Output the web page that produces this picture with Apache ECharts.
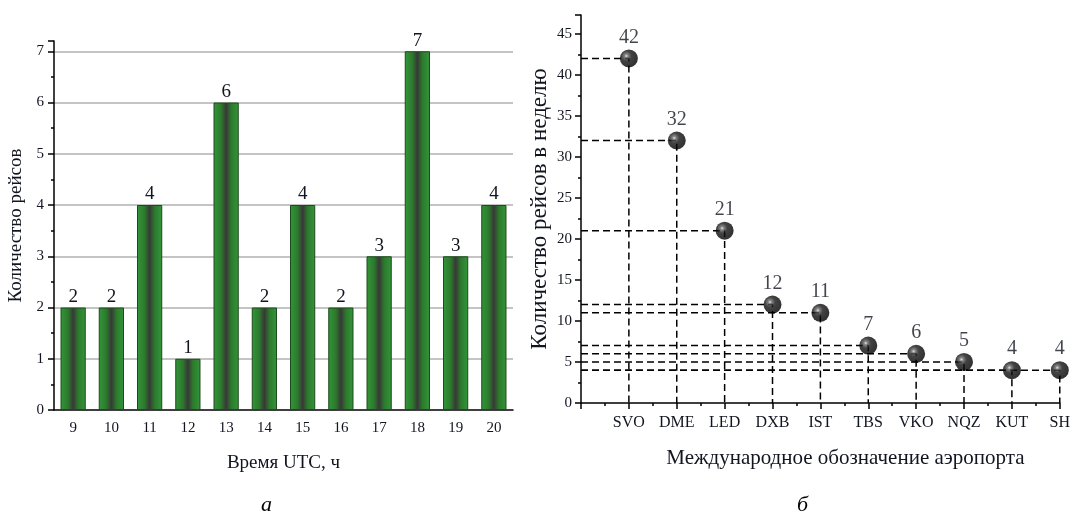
<!DOCTYPE html>
<html>
<head>
<meta charset="utf-8">
<script src="https://cdn.jsdelivr.net/npm/echarts@6/dist/echarts.min.js"></script>
<style>
html,body{margin:0;padding:0;background:#fff;}
#c{width:1073px;height:518px;}
</style>
</head>
<body>
<div id="c"></div>
<script>
// ---- data ----
const hours = ['9','10','11','12','13','14','15','16','17','18','19','20'];
const flights = [2,2,4,1,6,2,4,2,3,7,3,4];
const airports = ['SVO','DME','LED','DXB','IST','TBS','VKO','NQZ','KUT','SH'];
const weekly = [42,32,21,12,11,7,6,5,4,4];

const SERIF = '"Liberation Serif","DejaVu Serif",serif';
const TXT = '#111520';

const chart = echarts.init(document.getElementById('c'));

const dashSeries = weekly.map((v, i) => ({
  type: 'line',
  xAxisIndex: 2, yAxisIndex: 1,
  data: [[0, v], [i + 1, v], [i + 1, 0]],
  symbol: 'none',
  silent: true,
  z: 1,
  lineStyle: {color: '#000', width: 1.5, type: [7, 4]}
}));

const option = {
  animation: false,
  backgroundColor: '#fff',
  title: [
    {text: 'а', left: 256, top: 489, textStyle: {fontFamily: SERIF, fontStyle: 'italic', fontWeight: 'normal', fontSize: 22, color: '#000'}},
    {text: 'б', left: 792, top: 489, textStyle: {fontFamily: SERIF, fontStyle: 'italic', fontWeight: 'normal', fontSize: 22, color: '#000'}}
  ],
  grid: [
    {left: 54, right: 560, top: 41, bottom: 108, containLabel: false},
    {left: 581, right: 8, top: 15, bottom: 115, containLabel: false}
  ],
  xAxis: [
    {
      type: 'category', gridIndex: 0, data: hours,
      name: 'Время UTC, ч', nameLocation: 'middle', nameGap: 44,
      nameTextStyle: {fontFamily: SERIF, fontSize: 19, color: TXT},
      axisLine: {lineStyle: {color: '#000', width: 1.5}},
      axisTick: {alignWithLabel: true, length: 6, lineStyle: {color: '#000', width: 1.5}},
      axisLabel: {fontFamily: SERIF, fontSize: 15, color: TXT, margin: 11},
      splitLine: {show: false}
    },
    {
      type: 'category', gridIndex: 0, data: hours,
      axisLine: {show: false},
      axisTick: {alignWithLabel: false, length: 3, lineStyle: {color: '#000', width: 1.5}},
      axisLabel: {show: false},
      splitLine: {show: false}
    },
    {
      type: 'value', gridIndex: 1, min: 0, max: 10, interval: 1,
      name: 'Международное обозначение аэропорта', nameLocation: 'middle', nameGap: 45,
      nameTextStyle: {fontFamily: SERIF, fontSize: 21, color: TXT, padding: [0, 0, 0, 50]},
      axisLine: {lineStyle: {color: '#000', width: 1.5}},
      axisTick: {length: 6, lineStyle: {color: '#000', width: 1.5}},
      minorTick: {show: true, splitNumber: 2, length: 3, lineStyle: {color: '#000', width: 1.5}},
      axisLabel: {fontFamily: SERIF, fontSize: 16, color: TXT, margin: 12,
        formatter: v => (v >= 1 && v <= airports.length && Number.isInteger(v)) ? airports[v - 1] : ''},
      splitLine: {show: false}
    }
  ],
  yAxis: [
    {
      type: 'value', gridIndex: 0, min: 0, max: 7.2, interval: 1,
      name: 'Количество рейсов', nameLocation: 'middle', nameGap: 28,
      nameTextStyle: {fontFamily: SERIF, fontSize: 19, color: TXT},
      axisLine: {show: true, lineStyle: {color: '#000', width: 1.5}},
      axisTick: {show: true, length: 6, lineStyle: {color: '#000', width: 1.5}},
      minorTick: {show: true, splitNumber: 2, length: 3, lineStyle: {color: '#000', width: 1.5}},
      axisLabel: {fontFamily: SERIF, fontSize: 15, color: TXT, margin: 10,
        formatter: v => Number.isInteger(v) ? String(v) : ''},
      splitLine: {show: true, showMinLine: false, showMaxLine: false, lineStyle: {color: '#b0b0b0', width: 1.5}}
    },
    {
      type: 'value', gridIndex: 1, min: 0, max: 47.3, interval: 5,
      name: 'Количество рейсов в неделю', nameLocation: 'middle', nameGap: 30,
      nameTextStyle: {fontFamily: SERIF, fontSize: 23, color: TXT},
      axisLine: {show: true, lineStyle: {color: '#000', width: 1.5}},
      axisTick: {show: true, length: 6, lineStyle: {color: '#000', width: 1.5}},
      minorTick: {show: true, splitNumber: 2, length: 3, lineStyle: {color: '#000', width: 1.5}},
      axisLabel: {fontFamily: SERIF, fontSize: 15, color: TXT, margin: 9,
        formatter: v => (v % 5 === 0) ? String(v) : ''},
      splitLine: {show: false}
    }
  ],
  series: [
    {
      type: 'bar', xAxisIndex: 0, yAxisIndex: 0,
      data: flights,
      barWidth: '66%',
      itemStyle: {
        borderColor: '#1d4a1d', borderWidth: 1,
        color: new echarts.graphic.LinearGradient(0, 0, 1, 0, [
          {offset: 0, color: '#33963a'},
          {offset: 0.3, color: '#2c7a2c'},
          {offset: 0.5, color: '#383838'},
          {offset: 0.7, color: '#2c7a2c'},
          {offset: 1, color: '#33963a'}
        ])
      },
      label: {show: true, position: 'top', distance: 1, fontFamily: SERIF, fontSize: 19, color: TXT}
    },
    ...dashSeries,
    {
      type: 'scatter', xAxisIndex: 2, yAxisIndex: 1,
      data: weekly.map((v, i) => [i + 1, v]),
      symbol: 'circle', symbolSize: 18, z: 5,
      itemStyle: {
        color: new echarts.graphic.RadialGradient(0.36, 0.36, 0.62, [
          {offset: 0, color: '#e0e0e0'},
          {offset: 0.15, color: '#6a6a6a'},
          {offset: 0.45, color: '#141414'},
          {offset: 1, color: '#000'}
        ])
      },
      label: {show: true, position: 'top', distance: 2, fontFamily: SERIF, fontSize: 20, color: TXT,
        formatter: p => String(p.value[1])}
    }
  ]
};
chart.setOption(option);
</script>
</body>
</html>
